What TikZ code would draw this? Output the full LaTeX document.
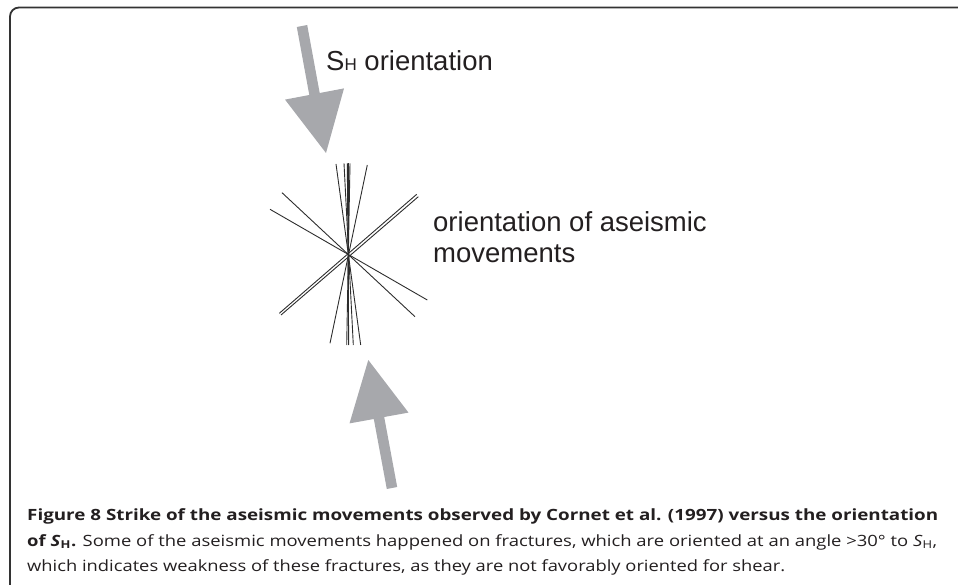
\documentclass[tikz,border=0pt]{standalone}
\usepackage{fontspec}
\usepackage{graphicx}
\setmainfont{Open Sans}
\newfontfamily\helv{Liberation Sans}
\usetikzlibrary{calc}
\definecolor{arrowgray}{RGB}{167,168,172}
\definecolor{linegray}{RGB}{45,45,45}
\definecolor{captext}{RGB}{35,31,32}
\begin{document}
\begin{tikzpicture}[x=1pt,y=-1pt,
  frameline/.style={line width=1.8pt, draw=black!80, rounded corners=9pt},
  strikeline/.style={line width=0.9pt, draw=linegray},
  bigarrow/.style={fill=arrowgray, draw=none},
  label/.style={font=\helv\fontsize{27.5}{31}\selectfont, text=captext, anchor=base west, inner sep=0pt},
  capline/.style={font=\fontsize{15.5}{18}\selectfont, text=captext, anchor=base west, inner sep=0pt}]
\useasboundingbox (0,0) rectangle (958,585);

% frame
\draw[frameline] (10,585) -- (10,7.5) -- (958,7.5);

% top arrow (pointing down)
\fill[bigarrow] (296.8,27.0) -- (307.2,25.0) -- (319.7,93.0) -- (344,88.4)
  -- (326,153) -- (285,99.6) -- (309.3,95.0) -- cycle;
% bottom arrow (pointing up)
\fill[bigarrow] (386.8,489) -- (397.2,487) -- (384.2,417) -- (408.5,412.6)
  -- (368.3,360) -- (349.5,423.4) -- (373.8,419) -- cycle;

% strikes of aseismic movements
\draw[strikeline] (336,164) -- (360.7,345);
\draw[strikeline] (367.3,165) -- (330,343.3);
\draw[strikeline] (344,163.3) -- (353.3,345);
\draw[strikeline] (347.3,163.3) -- (348.7,345);
\draw[strikeline] (350,163.3) -- (346.7,345);
\draw[strikeline] (348.7,163.3) -- (348.7,345);
\draw[strikeline] (282,192.7) -- (415,316.7);
\draw[strikeline] (270,209.3) -- (427.3,300);
\draw[strikeline] (416.7,194.3) -- (279.3,313.3);
\draw[strikeline] (418.3,196.7) -- (281,315);

% labels
\node[label] (sh) at (326,71) {S{\fontsize{17}{20}\selectfont H} orientation};
\node[label] (orient) at (433,232) {orientation of aseismic};
\node[label] (orient2) at (433,263) {movements};

% caption
\node[capline] (cap1) at (27,520) {\resizebox{911pt}{\height}{\textbf{Figure 8 Strike of the aseismic movements observed by Cornet et al. (1997) versus the orientation}}};
\node[capline] (cap2) at (27,546) {\resizebox{910pt}{\height}{\textbf{of \textit{S}\textsubscript{H}.} Some of the aseismic movements happened on fractures, which are oriented at an angle >30° to \textit{S}\textsubscript{H},}};
\node[capline] (cap3) at (27,571) {\resizebox{758pt}{\height}{which indicates weakness of these fractures, as they are not favorably oriented for shear.}};
\end{tikzpicture}
\end{document}
